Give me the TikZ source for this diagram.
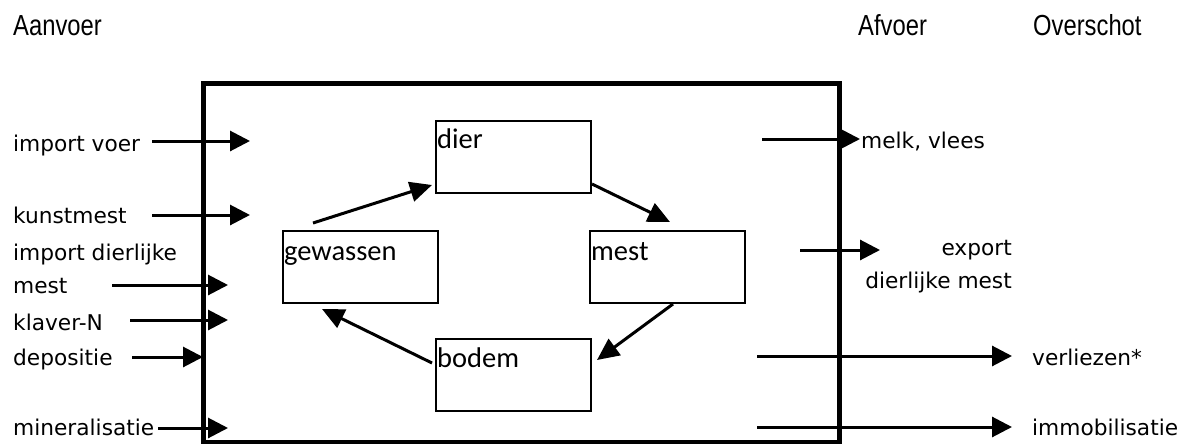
\documentclass[tikz,border=0pt]{standalone}
\usepackage{fontspec}
\setmainfont{DejaVu Sans}
\newfontfamily\hdrfont[FakeStretch=0.82]{Liberation Sans}
\newfontfamily\boxfont{Carlito}
\usetikzlibrary{arrows.meta,calc}
\begin{document}
\begin{tikzpicture}[x=1pt,y=-1pt,
  hdr/.style={font=\hdrfont\fontsize{29}{32}\selectfont, anchor=base west, inner sep=0},
  lbl/.style={font=\fontsize{21.7}{24}\selectfont, anchor=base west, inner sep=0},
  rlbl/.style={font=\fontsize{21.7}{24}\selectfont, anchor=base east, inner sep=0},
  inbox/.style={draw, line width=2pt, minimum width=155pt, minimum height=72pt, anchor=north west, inner sep=0},
  boxtxt/.style={font=\boxfont\fontsize{28.5}{30}\selectfont, anchor=base west, inner sep=0},
  arr/.style={line width=3pt, -{Triangle[length=20pt,width=20pt]}},
  iarr/.style={line width=3pt, -{Triangle[length=22pt,width=20pt]}}]
\useasboundingbox (0,0) rectangle (1191,444);
% headers
\node[hdr] (aanvoer) at (13,36) {Aanvoer};
\node[hdr] (afvoer) at (858,36) {Afvoer};
\node[hdr] (overschot) at (1033,36) {Overschot};
% outer box
\draw[line width=5pt] (203,83) rectangle (839,442);
% inner boxes
\node[inbox] (dier) at (435,120) {};
\node[inbox] (gew) at (282,230) {};
\node[inbox] (mest) at (589,230) {};
\node[inbox] (bodem) at (435,338) {};
\node[boxtxt] (tdier) at ([shift={(2,28)}]dier.north west) {dier};
\node[boxtxt] (tgew) at ([shift={(2,30)}]gew.north west) {gewassen};
\node[boxtxt] (tmest) at ([shift={(2,30)}]mest.north west) {mest};
\node[boxtxt] (tbodem) at ([shift={(2,29)}]bodem.north west) {bodem};
% cycle arrows
\draw[iarr] ([shift={(31,-7)}]gew.north west) -- ([shift={(-3,-9)}]dier.south west);
\draw[iarr] ([shift={(0,-10)}]dier.south east) -- ([shift={(81,-8)}]mest.north west);
\draw[iarr] ([shift={(84,0)}]mest.south west) -- ([shift={(5,22)}]bodem.north east);
\draw[iarr] ([shift={(-3,25)}]bodem.north west) -- ([shift={(40,5)}]gew.south west);
% left labels
\node[lbl] (l1) at (13,151) {import voer};
\node[lbl] (l2) at (13,223) {kunstmest};
\node[lbl] (l3) at (13,260) {import dierlijke};
\node[lbl] (l4) at (13,293) {mest};
\node[lbl] (l5) at (13,330) {klaver-N};
\node[lbl] (l6) at (13,365) {depositie};
\node[lbl] (l7) at (13,435) {mineralisatie};
\coordinate (a1s) at (152,141); \coordinate (a1e) at (250,141);
\coordinate (a2s) at (152,215); \coordinate (a2e) at (250,215);
\coordinate (a4s) at (112,285); \coordinate (a4e) at (228,285);
\coordinate (a5s) at (130,320); \coordinate (a5e) at (228,320);
\coordinate (a6s) at (132,357); \coordinate (a6e) at (203,357);
\coordinate (a7s) at (158,428); \coordinate (a7e) at (228,428);
\draw[arr] (a1s) -- (a1e);
\draw[arr] (a2s) -- (a2e);
\draw[arr] (a4s) -- (a4e);
\draw[arr] (a5s) -- (a5e);
\draw[arr] (a6s) -- (a6e);
\draw[arr] (a7s) -- (a7e);
% right labels
\node[lbl] (r1) at (861,148) {melk, vlees};
\node[rlbl] (r2) at (1012,255) {export};
\node[rlbl] (r3) at (1012,288) {dierlijke mest};
\node[lbl] (r4) at (1032,365) {verliezen*};
\node[lbl] (r5) at (1032,435) {immobilisatie};
\coordinate (b1s) at (762,139); \coordinate (b1e) at (860,139);
\coordinate (b2s) at (800,250); \coordinate (b2e) at (880,250);
\coordinate (b3s) at (757,356); \coordinate (b3e) at (1012,356);
\coordinate (b4s) at (757,427); \coordinate (b4e) at (1012,427);
\draw[arr] (b1s) -- (b1e);
\draw[arr] (b2s) -- (b2e);
\draw[arr] (b3s) -- (b3e);
\draw[arr] (b4s) -- (b4e);
\end{tikzpicture}
\end{document}
